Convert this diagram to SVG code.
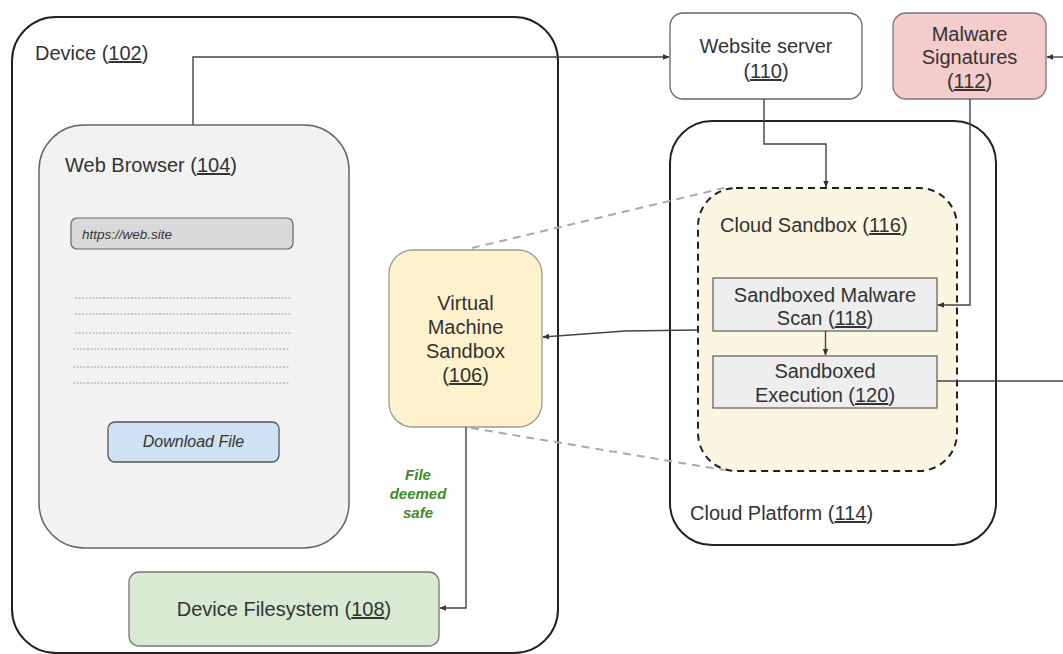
<svg xmlns="http://www.w3.org/2000/svg" width="1063" height="654" viewBox="0 0 1063 654">
<defs>
<style>
text{font-family:"Liberation Sans",Arial,sans-serif;fill:#333;font-size:20px}
.c{text-anchor:middle}
.u{text-decoration:underline}
.conn{fill:none;stroke:#444;stroke-width:1.4}
.ghost{fill:none;stroke:#aaa;stroke-width:2;stroke-dasharray:8 6}
.dots{stroke:#bbb;stroke-width:1.5;stroke-dasharray:2 1.5}
</style>
<marker id="ah" viewBox="0 0 10 10" refX="9" refY="5" markerWidth="5" markerHeight="5" orient="auto">
<path d="M0,1 L10,5 L0,9 z" fill="#333"/>
</marker>
</defs>
<rect width="1063" height="654" fill="#fff"/>

<g id="device">
<rect x="12" y="17" width="546" height="636" rx="44" fill="#fff" stroke="#222" stroke-width="2"/>
<text x="35" y="60">Device (<tspan class="u">102</tspan>)</text>
</g>

<g id="cloud-platform">
<rect x="670" y="121" width="326" height="424" rx="42" fill="#fff" stroke="#222" stroke-width="2"/>
<text x="690" y="520">Cloud Platform (<tspan class="u">114</tspan>)</text>
</g>

<g id="web-browser">
<rect x="39" y="125" width="310" height="423" rx="45" fill="#f2f2f2" stroke="#666" stroke-width="1.5"/>
<text x="65" y="172">Web Browser (<tspan class="u">104</tspan>)</text>
<rect x="71" y="218" width="222" height="31" rx="6" fill="#d9d9d9" stroke="#666" stroke-width="1.2"/>
<text x="82" y="239" style="font-size:13.5px;font-style:italic">https://web.site</text>
<line class="dots" x1="75" y1="298" x2="292" y2="298"/>
<line class="dots" x1="75" y1="314" x2="292" y2="314"/>
<line class="dots" x1="75" y1="333" x2="292" y2="333"/>
<line class="dots" x1="73" y1="349" x2="290" y2="349"/>
<line class="dots" x1="73" y1="367" x2="290" y2="367"/>
<line class="dots" x1="73" y1="383" x2="290" y2="383"/>
<rect id="download-file" x="108" y="422" width="171" height="40" rx="7" fill="#cfe2f3" stroke="#555" stroke-width="1.3"/>
<text class="c" x="193.5" y="447" style="font-size:16px;font-style:italic">Download File</text>
</g>

<g id="device-filesystem">
<rect x="129" y="572" width="310" height="74" rx="10" fill="#d9ead3" stroke="#777" stroke-width="1.3"/>
<text class="c" x="284" y="616">Device Filesystem (<tspan class="u">108</tspan>)</text>
</g>

<g id="vm-sandbox">
<rect x="389" y="250" width="153" height="177" rx="24" fill="#fff2cc" stroke="#999" stroke-width="1.3"/>
<text class="c" x="465.5" y="310">Virtual</text>
<text class="c" x="465.5" y="334">Machine</text>
<text class="c" x="465.5" y="358">Sandbox</text>
<text class="c" x="465.5" y="382">(<tspan class="u">106</tspan>)</text>
</g>

<g id="website-server">
<rect x="670" y="13" width="192" height="86" rx="13" fill="#fff" stroke="#666" stroke-width="1.3"/>
<text class="c" x="766" y="53">Website server</text>
<text class="c" x="766" y="78">(<tspan class="u">110</tspan>)</text>
</g>

<g id="malware-signatures">
<rect x="893" y="13" width="153" height="86" rx="13" fill="#f4cccc" stroke="#777" stroke-width="1.3"/>
<text class="c" x="969.5" y="41">Malware</text>
<text class="c" x="969.5" y="64">Signatures</text>
<text class="c" x="969.5" y="88">(<tspan class="u">112</tspan>)</text>
</g>

<g id="cloud-sandbox">
<rect x="698" y="188" width="259" height="283" rx="38" fill="#fbf6e2" stroke="#222" stroke-width="2" stroke-dasharray="7 5"/>
<text x="720" y="232">Cloud Sandbox (<tspan class="u">116</tspan>)</text>
</g>

<g id="malware-scan">
<rect x="713" y="278" width="224" height="53" fill="#eeeeee" stroke="#666" stroke-width="1.3"/>
<text class="c" x="825" y="302">Sandboxed Malware</text>
<text class="c" x="825" y="325">Scan (<tspan class="u">118</tspan>)</text>
</g>

<g id="sandboxed-execution">
<rect x="713" y="356" width="224" height="52" fill="#eeeeee" stroke="#666" stroke-width="1.3"/>
<text class="c" x="825" y="378">Sandboxed</text>
<text class="c" x="825" y="402">Execution (<tspan class="u">120</tspan>)</text>
</g>

<g id="connectors">
<line class="ghost" x1="472" y1="248" x2="724" y2="188"/>
<line class="ghost" x1="471" y1="428" x2="724" y2="470"/>
<polyline class="conn" points="193,125 193,57 669,57" marker-end="url(#ah)"/>
<polyline class="conn" points="1063,57 1047,57" marker-end="url(#ah)"/>
<polyline class="conn" points="764,99 764,144 826,144 826,187" marker-end="url(#ah)"/>
<polyline class="conn" points="970,99 970,305 938,305" marker-end="url(#ah)"/>
<polyline class="conn" points="825.5,331 825.5,355" marker-end="url(#ah)"/>
<polyline class="conn" points="937,381 1063,381"/>
<polyline class="conn" points="698,330 625,331 543,337" marker-end="url(#ah)"/>
<polyline class="conn" points="466,427 466,608 440,608" marker-end="url(#ah)"/>
<text class="c" x="418" y="480" style="font-size:15px;font-weight:bold;font-style:italic;fill:#3d8b2a">File</text>
<text class="c" x="418" y="499" style="font-size:15px;font-weight:bold;font-style:italic;fill:#3d8b2a">deemed</text>
<text class="c" x="418" y="518" style="font-size:15px;font-weight:bold;font-style:italic;fill:#3d8b2a">safe</text>
</g>
</svg>
